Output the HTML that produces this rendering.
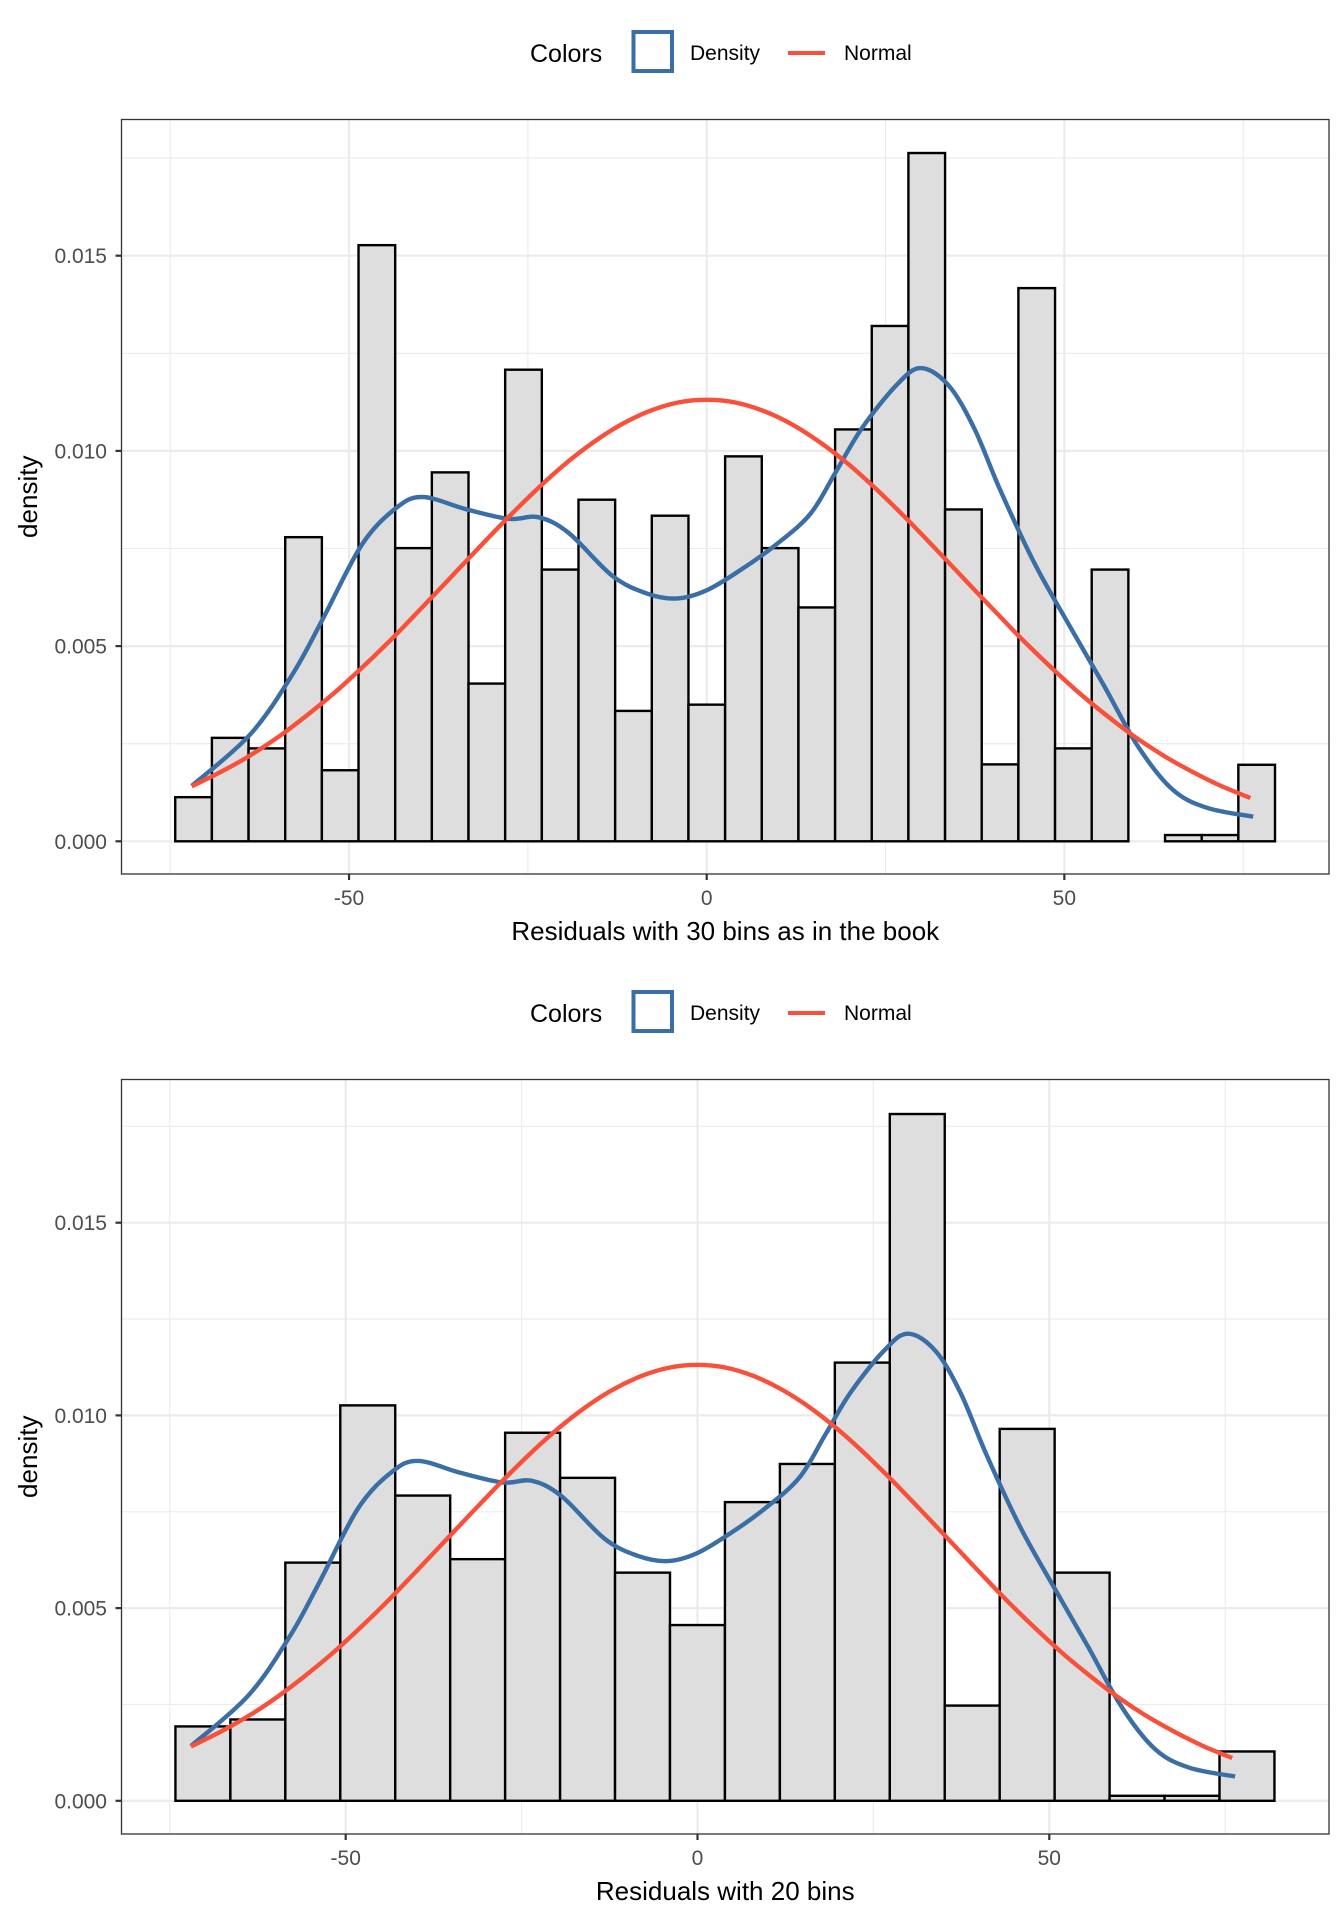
<!DOCTYPE html>
<html><head><meta charset="utf-8">
<style>
html,body{margin:0;padding:0;background:#fff;}
svg{display:block;}
text{font-family:"Liberation Sans",Arial,sans-serif;}
</style></head>
<body>
<svg id="chart" width="1344" height="1920" viewBox="0 0 1344 1920" xmlns="http://www.w3.org/2000/svg"></svg>
<script>
// ---------- data ----------
const bins30Start = -74.3;
const bins30Width = 5.125;
const bins30Values = [0.00113,0.00265,0.00238,0.00779,0.00182,0.01527,0.00751,0.00945,0.00404,0.01208,0.00696,0.00875,0.00334,0.00834,0.00350,0.00986,0.00751,0.00599,0.01055,0.01320,0.01763,0.00850,0.00197,0.01417,0.00238,0.00696,0,0.00016,0.00016,0.00196];
const bins20Start = -74.2;
const bins20Width = 7.81;
const bins20Values = [0.00193,0.00211,0.00618,0.01026,0.00792,0.00627,0.00955,0.00838,0.00592,0.00456,0.00775,0.00874,0.01137,0.01782,0.00247,0.00965,0.00592,0.00013,0.00013,0.00128];
const densityX = [-72,-63.8,-57.8,-53.6,-48.2,-43.4,-39.7,-33.7,-27.7,-23.5,-19.3,-13.2,-8.4,-4.2,0,4.9,9.7,14.5,18.1,21.7,26.5,29.9,33.8,37.4,41.0,45.8,50.6,55.5,60.3,65.1,69.9,76.4];
const densityY = [0.00142,0.00274,0.00431,0.00572,0.0076,0.00854,0.00882,0.00851,0.00826,0.0083,0.0079,0.0068,0.00635,0.00622,0.00643,0.00697,0.0076,0.00839,0.00948,0.01058,0.01168,0.01212,0.01168,0.01058,0.00901,0.00713,0.00556,0.004,0.00243,0.00133,0.00086,0.00063];
const normalX = [-72,-68,-64,-60,-56,-52,-48,-44,-40,-36,-32,-28,-24,-20,-16,-12,-8,-4,0,4,8,12,16,20,24,28,32,36,40,44,48,52,56,60,64,68,72,76];
const normalY = [0.00141,0.00177,0.00218,0.00266,0.00321,0.00381,0.00448,0.00519,0.00595,0.00672,0.00749,0.00825,0.00897,0.00963,0.0102,0.01067,0.01102,0.01124,0.01131,0.01124,0.01102,0.01067,0.0102,0.00963,0.00897,0.00825,0.00749,0.00672,0.00595,0.00519,0.00448,0.00381,0.00321,0.00266,0.00218,0.00177,0.00141,0.00111];
const yTicks = [0,0.005,0.010,0.015];
const yTickLabels = ["0.000","0.005","0.010","0.015"];
const xTicks = [-50,0,50];
const xTickLabels = ["-50","0","50"];

const NS="http://www.w3.org/2000/svg";
const svg=document.getElementById('chart');
function mk(tag,attrs,parent){const e=document.createElementNS(NS,tag);for(const k in attrs)e.setAttribute(k,attrs[k]);(parent||svg).appendChild(e);return e;}
function smooth(pts){
  let d='M'+pts[0][0].toFixed(1)+','+pts[0][1].toFixed(1);
  for(let i=0;i<pts.length-1;i++){
    const p0=pts[Math.max(0,i-1)],p1=pts[i],p2=pts[i+1],p3=pts[Math.min(pts.length-1,i+2)];
    const c1x=p1[0]+(p2[0]-p0[0])/6,c1y=p1[1]+(p2[1]-p0[1])/6;
    const c2x=p2[0]-(p3[0]-p1[0])/6,c2y=p2[1]-(p3[1]-p1[1])/6;
    d+='C'+c1x.toFixed(1)+','+c1y.toFixed(1)+' '+c2x.toFixed(1)+','+c2y.toFixed(1)+' '+p2[0].toFixed(1)+','+p2[1].toFixed(1);
  }
  return d;
}

function panel(off, x0px, xScale, y0px, yPer005, startX, binW, values, title, key){
  const L=121.5,R=1329,T=119.5+off,B=874+off;
  const X=v=>x0px+v*xScale;
  const Y=v=>y0px+off - v/0.005*yPer005;
  const g=mk('g',{});
  
  
  const lg=mk('g',{},g);
  
  
  const lt=mk('text',{x:530,y:62+off,'font-size':25,fill:'#000'},lg);lt.textContent='Colors';
  
  const lb=mk('rect',{x:633.5,y:32+off,width:38.5,height:39,fill:'#fff',stroke:'#3a6ea5','stroke-width':4},lg);
  
  const ld=mk('text',{x:690,y:60+off,'font-size':21,fill:'#000'},lg);ld.textContent='Density';
  
  const ll=mk('line',{x1:788,x2:825,y1:53+off,y2:53+off,stroke:'#f8503a','stroke-width':4},lg);
  
  const ln=mk('text',{x:844,y:60+off,'font-size':21,fill:'#000'},lg);ln.textContent='Normal';
  
  const gg=mk('g',{stroke:'#ebebeb'},g);
  
  for(let i=0;i<yTicks.length;i++){
    mk('line',{x1:L,x2:R,y1:Y(yTicks[i]),y2:Y(yTicks[i]),'stroke-width':2.2},gg);
    const m=yTicks[i]+0.0025;
    if(Y(m)>T) mk('line',{x1:L,x2:R,y1:Y(m),y2:Y(m),'stroke-width':1.1},gg);
  }
  for(let i=0;i<xTicks.length;i++){
    mk('line',{x1:X(xTicks[i]),x2:X(xTicks[i]),y1:T,y2:B,'stroke-width':2.2},gg);
  }
  [-75,-25,25,75].forEach(m=>{if(X(m)>L&&X(m)<R)mk('line',{x1:X(m),x2:X(m),y1:T,y2:B,'stroke-width':1.1},gg);});
  const bg=mk('g',{},g);
  
  for(let i=0;i<values.length;i++){
    const xa=X(startX+i*binW), xb=X(startX+(i+1)*binW);
    const r=mk('rect',{x:xa,y:Y(values[i]),width:xb-xa,height:Y(0)-Y(values[i]),fill:'#dedede',stroke:'#000','stroke-width':2.4},bg);
    
    
  }
  const dp=densityX.map((v,i)=>[X(v),Y(densityY[i])]);
  const dc=mk('path',{d:smooth(dp),fill:'none',stroke:'#3a6ea5','stroke-width':4.4,'stroke-linejoin':'round'},g);
  
  const np=normalX.map((v,i)=>[X(v),Y(normalY[i])]);
  const nc=mk('path',{d:smooth(np),fill:'none',stroke:'#f8503a','stroke-width':4.4,'stroke-linejoin':'round'},g);
  
  const fr=mk('rect',{x:L,y:T,width:R-L,height:B-T,fill:'none',stroke:'#333','stroke-width':1.3},g);
  
  for(let i=0;i<yTicks.length;i++){
    mk('line',{x1:L-6,x2:L,y1:Y(yTicks[i]),y2:Y(yTicks[i]),stroke:'#333','stroke-width':2.2},g);
    const t=mk('text',{x:107,y:Y(yTicks[i])+7.5,'font-size':21,fill:'#4d4d4d','text-anchor':'end'},g);
    t.textContent=yTickLabels[i];
    
  }
  for(let i=0;i<xTicks.length;i++){
    mk('line',{x1:X(xTicks[i]),x2:X(xTicks[i]),y1:B,y2:B+6,stroke:'#333','stroke-width':2.2},g);
    const t=mk('text',{x:X(xTicks[i]),y:B+31,'font-size':21,fill:'#4d4d4d','text-anchor':'middle'},g);
    t.textContent=xTickLabels[i];
    
  }
  const xt=mk('text',{x:(L+R)/2,y:B+66,'font-size':26,fill:'#000','text-anchor':'middle'},g);
  xt.textContent=title;
  
  const yt=mk('text',{x:0,y:0,'font-size':26,fill:'#000','text-anchor':'middle',transform:'translate(37,'+((T+B)/2)+') rotate(-90)'},g);
  yt.textContent='density';
  
}
panel(0, 706.7, 7.153, 841.3, 195.2, bins30Start, bins30Width, bins30Values, 'Residuals with 30 bins as in the book', 'top');
panel(960, 697.5, 7.036, 840.8, 192.7, bins20Start, bins20Width, bins20Values, 'Residuals with 20 bins', 'bottom');
</script>
</body></html>
